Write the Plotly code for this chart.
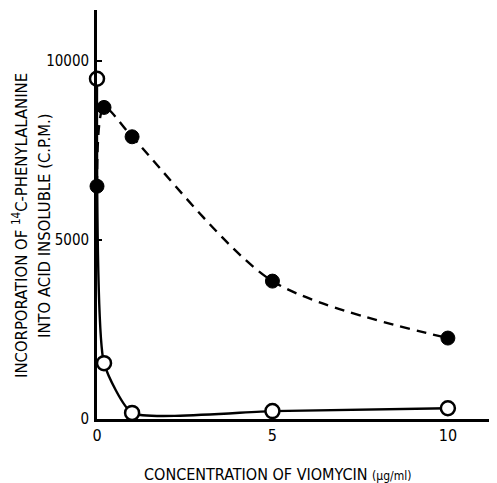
import plotly.graph_objects as go

conc = [0, 0.2, 1, 5, 10]
filled_vals = [6500, 8700, 7880, 3850, 2260]
open_vals = [9500, 1560, 170, 220, 300]
x_ticks = [0, 5, 10]
y_ticks = [0, 5000, 10000]

FONT = "DejaVu Sans Condensed, DejaVu Sans Mono, monospace"

fig = go.Figure()
fig.add_trace(go.Scatter(
    x=conc, y=filled_vals, mode="lines+markers",
    line=dict(color="black", width=2.4, dash="10px,7px", shape="spline", smoothing=0.8),
    marker=dict(size=14, color="black", line=dict(color="black", width=1)),
    cliponaxis=False, showlegend=False))
fig.add_trace(go.Scatter(
    x=conc, y=open_vals, mode="lines+markers",
    line=dict(color="black", width=2.4, shape="spline", smoothing=0.5),
    marker=dict(size=14, color="white", line=dict(color="black", width=2.5)),
    cliponaxis=False, showlegend=False))

# page body has an 8px margin, so the figure is drawn 8px smaller and shifted
fig.update_layout(
    width=489, height=475,
    margin=dict(l=89, r=0, t=2, b=64),
    paper_bgcolor="white", plot_bgcolor="white",
    font=dict(family=FONT, size=16, color="black"),
    xaxis=dict(range=[0, 11.4], tickvals=x_ticks, ticktext=[str(v) for v in x_ticks],
               showgrid=False, zeroline=False, showline=True, linecolor="black",
               linewidth=2.8, ticks="", ticklabelstandoff=0,
               tickfont=dict(family=FONT, size=16)),
    yaxis=dict(range=[0, 11420], tickvals=y_ticks, ticktext=[str(v) for v in y_ticks],
               showgrid=False, zeroline=False, showline=True, linecolor="black",
               linewidth=2.8, ticks="inside", ticklen=5, tickwidth=2, tickcolor="black",
               ticklabelstandoff=2, tickfont=dict(family=FONT, size=15)),
    annotations=[
        dict(text="INCORPORATION OF <sup>14</sup>C-PHENYLALANINE", xref="paper", yref="paper",
             x=-0.1925, y=0.472, textangle=-90, showarrow=False,
             font=dict(family=FONT, size=16.5), xanchor="center", yanchor="middle"),
        dict(text="INTO ACID INSOLUBLE (C.P.M.)", xref="paper", yref="paper",
             x=-0.13, y=0.472, textangle=-90, showarrow=False,
             font=dict(family=FONT, size=16.5), xanchor="center", yanchor="middle"),
        dict(text="CONCENTRATION OF VIOMYCIN <span style='font-size:12px'>(μg/ml)</span>",
             xref="paper", yref="paper", x=0.45, y=-0.135, showarrow=False,
             font=dict(family=FONT, size=16), xanchor="center", yanchor="middle"),
    ],
)

fig.write_html("out.html")
